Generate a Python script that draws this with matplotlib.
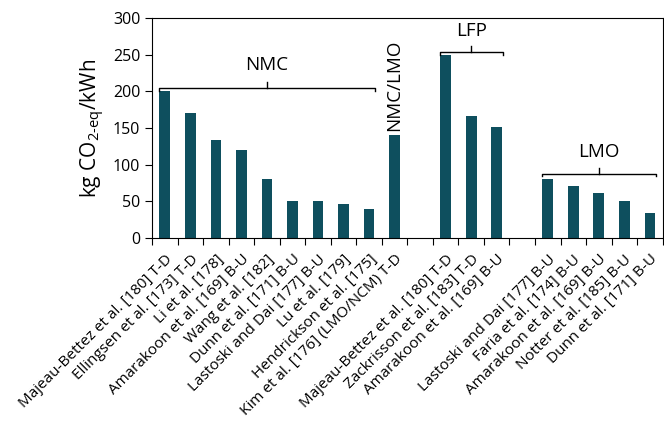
import numpy as np
import matplotlib.pyplot as plt

plt.rcParams['font.family'] = ['Open Sans', 'DejaVu Sans']
plt.rcParams['mathtext.fontset'] = 'custom'
plt.rcParams['mathtext.rm'] = 'Open Sans'

# studies, one bar each (empty strings are the gaps between groups)
labels = ["Majeau-Bettez et al. [180] T-D", "Ellingsen et al. [173] T-D", "Li et al. [178]",
          "Amarakoon et al. [169] B-U", "Wang et al. [182]", "Dunn et al. [171] B-U",
          "Lastoski and Dai [177] B-U", "Lu et al. [179]", "Hendrickson et al. [175]",
          "Kim et al. [176] (LMO/NCM) T-D", "",
          "Majeau-Bettez et al. [180] T-D", "Zackrisson et al. [183] T-D", "Amarakoon et al. [169] B-U", "",
          "Lastoski and Dai [177] B-U", "Faria et al. [174] B-U", "Amarakoon et al. [169] B-U",
          "Notter et al. [185] B-U", "Dunn et al. [171] B-U"]
values = [200, 171, 134, 120, 80, 50, 50, 46, 39,
          140, np.nan,
          250, 166, 151, np.nan,
          81, 71, 62, 51, 34]

# group brackets: name, first bar, last bar, bracket height, label height
groups = [("NMC", 0, 8, 205, 224),
          ("LFP", 11, 13, 254, 270),
          ("LMO", 15, 19, 88, 105)]

bar_color = '#0e4f5e'

fig = plt.figure(figsize=(6.64, 4.22), dpi=100)
ax = fig.add_axes([0.229, 0.436, 0.769, 0.521])

x = np.arange(len(labels))
ax.bar(x, values, width=0.42, color=bar_color)

for name, i0, i1, yb, yt in groups:
    xl, xr = i0 - 0.24, i1 + 0.24
    xm = (xl + xr) / 2
    ax.plot([xl, xl, xr, xr], [yb - 4, yb, yb, yb - 4], color='black', lw=1)
    ax.plot([xm, xm], [yb, yb + 8], color='black', lw=1)
    ax.text(xm, yt, name, ha='center', va='bottom', fontsize=13.5)

ax.text(9, 146, "NMC/LMO", rotation=90, ha='center', va='bottom', fontsize=13.5)

ax.set_xlim(-0.5, len(labels) - 0.5)
ax.set_ylim(0, 300)
ax.set_yticks(np.arange(0, 301, 50))
ax.set_xticks(np.arange(len(labels) + 1) - 0.5)
ax.set_xticklabels([])
ax.set_xticks(x, minor=True)
ax.set_xticklabels(labels, minor=True, rotation=45, ha='right', rotation_mode='anchor', fontsize=11)
ax.tick_params(axis='x', which='minor', length=0, pad=10)
ax.tick_params(axis='x', which='major', length=5, direction='out')
ax.tick_params(axis='y', labelsize=11.5, length=5)
ax.set_ylabel("kg CO$_{\\mathrm{2\\text{-}eq}}$/kWh", fontsize=15)

plt.savefig('out.png', dpi=100)
